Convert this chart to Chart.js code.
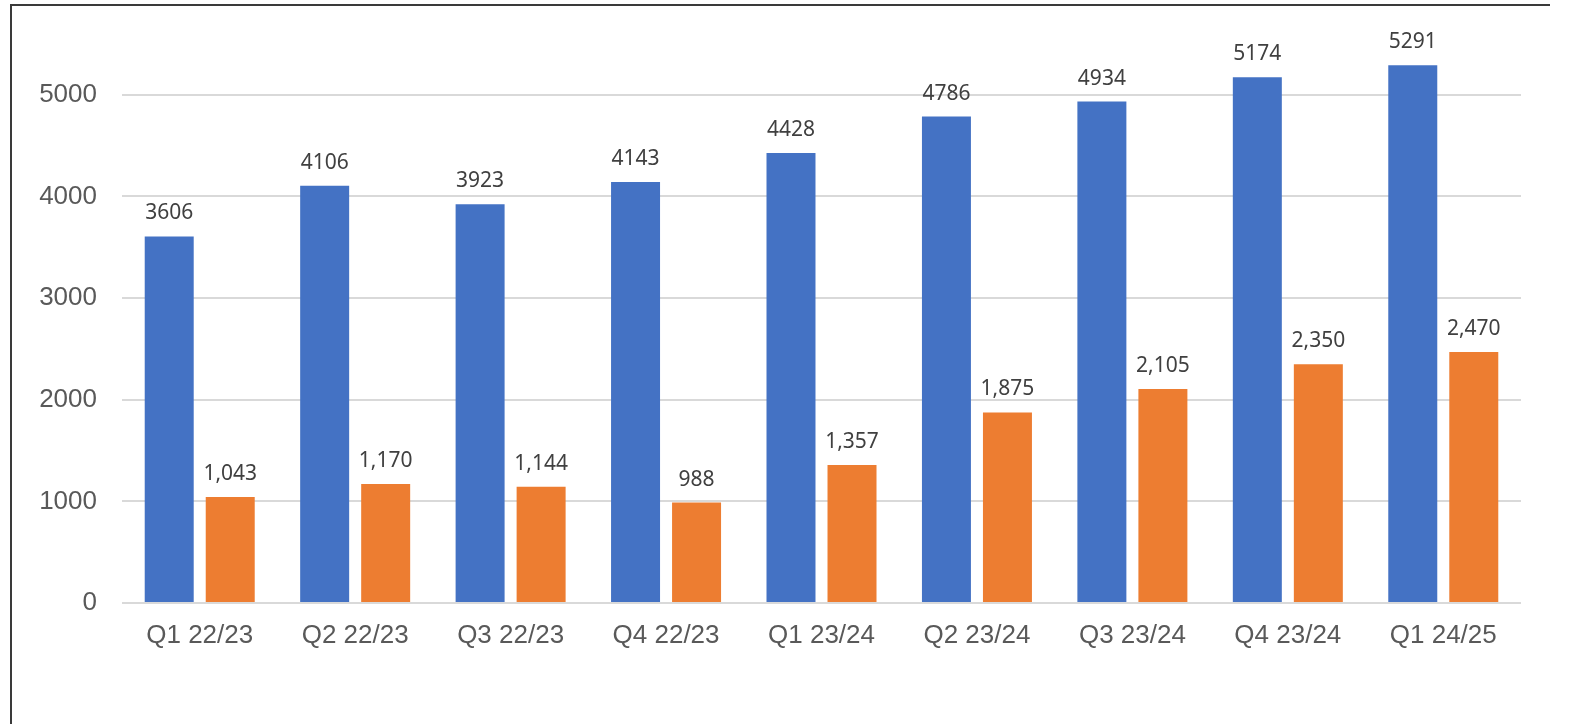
<!DOCTYPE html>
<html>
<head>
<meta charset="utf-8">
<script src="https://cdn.jsdelivr.net/npm/chart.js@4"></script>
<style>
  html, body { margin: 0; padding: 0; background: #ffffff; }
  #wrap { position: relative; width: 1573px; height: 724px; }
  #frame { position: absolute; left: 10px; top: 4px; width: 1540px; height: 720px;
           border-left: 2px solid #3a3a3a; border-top: 2px solid #3a3a3a; box-sizing: border-box; pointer-events: none; }
  canvas { position: absolute; left: 0; top: 0; }
</style>
</head>
<body>
<div id="wrap">
  <canvas id="c" width="1573" height="724"></canvas>
  <div id="frame"></div>
</div>
<script>
// Quarterly figures
const quarters = ['Q1 22/23', 'Q2 22/23', 'Q3 22/23', 'Q4 22/23', 'Q1 23/24', 'Q2 23/24', 'Q3 23/24', 'Q4 23/24', 'Q1 24/25'];
const seriesA = [3606, 4106, 3923, 4143, 4428, 4786, 4934, 5174, 5291];
const seriesB = [1043, 1170, 1144, 988, 1357, 1875, 2105, 2350, 2470];
const yTicks = [0, 1000, 2000, 3000, 4000, 5000];

// Value labels above each bar; the first series is shown plain, the second with thousands separators
const valueLabels = {
  id: 'valueLabels',
  afterDatasetsDraw(chart) {
    const ctx = chart.ctx;
    ctx.save();
    ctx.font = '21px "Noto Sans", "Open Sans", sans-serif';
    ctx.fillStyle = '#404040';
    ctx.textAlign = 'center';
    ctx.textBaseline = 'alphabetic';
    chart.data.datasets.forEach((ds, i) => {
      const meta = chart.getDatasetMeta(i);
      meta.data.forEach((bar, j) => {
        const v = ds.data[j];
        const txt = i === 0 ? String(v) : v.toLocaleString('en-US');
        ctx.fillText(txt, bar.x, bar.y - 17);
      });
    });
    ctx.restore();
  }
};

new Chart(document.getElementById('c'), {
  type: 'bar',
  data: {
    labels: quarters,
    datasets: [
      { data: seriesA, backgroundColor: '#4472C4', categoryPercentage: 0.785, barPercentage: 0.803 },
      { data: seriesB, backgroundColor: '#ED7D31', categoryPercentage: 0.785, barPercentage: 0.803 }
    ]
  },
  options: {
    responsive: false,
    animation: false,
    devicePixelRatio: 1,
    layout: { padding: { top: 44, right: 52, left: 0, bottom: 0 } },
    plugins: { legend: { display: false }, tooltip: { enabled: false } },
    scales: {
      x: {
        grid: { display: false, drawTicks: false },
        border: { display: false },
        ticks: { color: '#595959', font: { family: '"Liberation Sans", Arial, sans-serif', size: 26 }, padding: 17, maxRotation: 0 },
        afterFit(scale) { scale.height = 121; }
      },
      y: {
        min: 0,
        max: 5500,
        afterBuildTicks(scale) { scale.ticks = yTicks.map(v => ({ value: v })); },
        grid: { color: '#d9d9d9', lineWidth: 2, drawTicks: false },
        border: { display: false },
        ticks: {
          color: '#595959',
          font: { family: '"Liberation Sans", Arial, sans-serif', size: 26 },
          padding: 25,
          callback: (v) => String(v)
        },
        afterFit(scale) { scale.width = 122; }
      }
    }
  },
  plugins: [valueLabels]
});
</script>
</body>
</html>
